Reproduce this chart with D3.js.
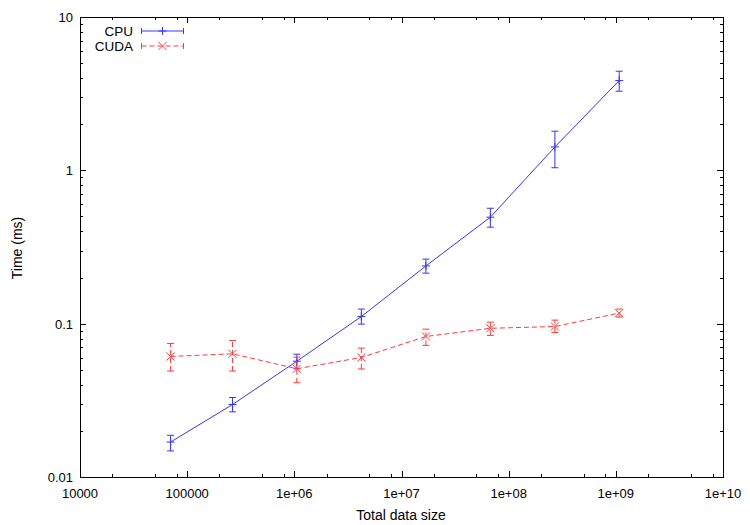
<!DOCTYPE html>
<html>
<head>
<meta charset="utf-8">
<script src="https://cdn.jsdelivr.net/npm/d3@7"></script>
<style>
  body { margin: 0; background: #fff; }
  svg { display: block; font-family: "Liberation Sans", Arial, sans-serif; }
</style>
</head>
<body>
<svg id="chart" width="750" height="525"></svg>
<script>
// x values: total data size
const SIZES = [70000, 265000, 1055000, 4220000, 16900000, 67500000, 270000000, 1075000000];

// CPU timing: mean, low, high (ms)
const CPU_TIME = [0.0169, 0.0297, 0.0569, 0.1113, 0.238, 0.495, 1.42, 3.85];
const CPU_LOW  = [0.0148, 0.0266, 0.0508, 0.0993, 0.2136, 0.426, 1.04, 3.28];
const CPU_HIGH = [0.0187, 0.0330, 0.0632, 0.1245, 0.2636, 0.566, 1.80, 4.43];

// CUDA timing: mean, low, high (ms)
const CUDA_TIME = [0.0611, 0.0636, 0.0508, 0.0602, 0.0825, 0.0933, 0.0958, 0.1172];
const CUDA_LOW  = [0.0491, 0.0491, 0.0412, 0.0506, 0.0722, 0.0839, 0.0876, 0.1104];
const CUDA_HIGH = [0.0743, 0.0777, 0.0605, 0.0693, 0.0921, 0.1023, 0.1055, 0.1245];

const X_TICKS = [1e4, 1e5, 1e6, 1e7, 1e8, 1e9, 1e10];
const X_TICK_LABELS = ["10000", "100000", "1e+06", "1e+07", "1e+08", "1e+09", "1e+10"];
const Y_TICKS = [0.01, 0.1, 1, 10];
const Y_TICK_LABELS = ["0.01", "0.1", "1", "10"];

const plotLeft = 80, plotRight = 723, plotTop = 17, plotBottom = 477;

const svg = d3.select("#chart");

const x = d3.scaleLog().domain([1e4, 1e10]).range([plotLeft, plotRight]);
const y = d3.scaleLog().domain([0.01, 10]).range([plotBottom, plotTop]);

// minor ticks
const xMinor = [];
for (let d = 1e4; d < 1e10; d *= 10) {
  for (const m of [2, 5, 8]) xMinor.push(d * m);
}
const yMinor = [];
for (let d = 0.01; d < 9; d *= 10) {
  for (let m = 2; m <= 9; m++) yMinor.push(d * m);
}

const ticks = svg.append("g").attr("stroke", "#000").attr("stroke-width", 1);
function tickLines(vals, len, axis) {
  for (const v of vals) {
    if (axis === "x") {
      const px = Math.round(x(v)) + 0.5;
      ticks.append("line").attr("x1", px).attr("x2", px).attr("y1", plotBottom).attr("y2", plotBottom - len);
      ticks.append("line").attr("x1", px).attr("x2", px).attr("y1", plotTop).attr("y2", plotTop + len);
    } else {
      const py = Math.round(y(v)) + 0.5;
      ticks.append("line").attr("x1", plotLeft).attr("x2", plotLeft + len).attr("y1", py).attr("y2", py);
      ticks.append("line").attr("x1", plotRight).attr("x2", plotRight - len).attr("y1", py).attr("y2", py);
    }
  }
}
tickLines(X_TICKS, 6, "x");
tickLines(xMinor, 3, "x");
tickLines(Y_TICKS, 6, "y");
tickLines(yMinor, 3, "y");

// tick labels
svg.append("g").selectAll("text")
  .data(X_TICKS)
  .join("text")
  .attr("x", d => x(d))
  .attr("y", 498)
  .attr("text-anchor", "middle")
  .attr("font-size", 13)
  .text((d, i) => X_TICK_LABELS[i]);

svg.append("g").selectAll("text")
  .data(Y_TICKS)
  .join("text")
  .attr("x", 73)
  .attr("y", d => y(d) + 5)
  .attr("text-anchor", "end")
  .attr("font-size", 13)
  .text((d, i) => Y_TICK_LABELS[i]);

// axis titles
svg.append("text")
  .attr("x", 401).attr("y", 520)
  .attr("text-anchor", "middle")
  .attr("font-size", 14)
  .text("Total data size");

svg.append("text")
  .attr("transform", "translate(22, 248) rotate(-90)")
  .attr("text-anchor", "middle")
  .attr("font-size", 14)
  .text("Time (ms)");

function drawSeries(times, lows, highs, color, dash, marker) {
  const g = svg.append("g")
    .attr("stroke", color)
    .attr("fill", "none")
    .attr("stroke-width", 1);

  const pts = SIZES.map((s, i) => ({x: s, y: times[i], lo: lows[i], hi: highs[i]}));

  g.append("path")
    .attr("d", d3.line().x(d => x(d.x)).y(d => y(d.y))(pts))
    .attr("stroke-dasharray", dash);

  const cap = 3.5;
  for (const p of pts) {
    const px = x(p.x);
    g.append("line").attr("x1", px).attr("x2", px)
      .attr("y1", y(p.lo)).attr("y2", y(p.hi))
      .attr("stroke-dasharray", dash);
    g.append("line").attr("x1", px - cap).attr("x2", px + cap)
      .attr("y1", y(p.lo)).attr("y2", y(p.lo));
    g.append("line").attr("x1", px - cap).attr("x2", px + cap)
      .attr("y1", y(p.hi)).attr("y2", y(p.hi));
    drawMarker(g, marker, px, y(p.y));
  }
}

function drawMarker(g, marker, px, py) {
  const r = 4;
  if (marker === "plus") {
    g.append("line").attr("x1", px - r).attr("x2", px + r).attr("y1", py).attr("y2", py);
    g.append("line").attr("x1", px).attr("x2", px).attr("y1", py - r).attr("y2", py + r);
  } else {
    g.append("line").attr("x1", px - r).attr("x2", px + r).attr("y1", py - r).attr("y2", py + r);
    g.append("line").attr("x1", px - r).attr("x2", px + r).attr("y1", py + r).attr("y2", py - r);
  }
}

const CPU_COLOR = "#3535ff";
const CUDA_COLOR = "#ff3a3a";

drawSeries(CPU_TIME, CPU_LOW, CPU_HIGH, CPU_COLOR, null, "plus");
drawSeries(CUDA_TIME, CUDA_LOW, CUDA_HIGH, CUDA_COLOR, "5,3", "cross");

// legend
const legend = [
  {name: "CPU", color: CPU_COLOR, dash: null, marker: "plus", y: 31},
  {name: "CUDA", color: CUDA_COLOR, dash: "5,3", marker: "cross", y: 46}
];
for (const l of legend) {
  svg.append("text")
    .attr("x", 133).attr("y", l.y + 5)
    .attr("text-anchor", "end")
    .attr("font-size", 13.5)
    .text(l.name);
  const g = svg.append("g").attr("stroke", l.color).attr("stroke-width", 1);
  g.append("line").attr("x1", 141.5).attr("x2", 183.5).attr("y1", l.y).attr("y2", l.y)
    .attr("stroke-dasharray", l.dash);
  g.append("line").attr("x1", 141.5).attr("x2", 141.5).attr("y1", l.y - 3).attr("y2", l.y + 3);
  g.append("line").attr("x1", 183.5).attr("x2", 183.5).attr("y1", l.y - 3).attr("y2", l.y + 3);
  drawMarker(g, l.marker, 162.5, l.y);
}

// border
svg.append("rect")
  .attr("x", plotLeft + 0.5).attr("y", plotTop + 0.5)
  .attr("width", plotRight - plotLeft).attr("height", plotBottom - plotTop)
  .attr("fill", "none")
  .attr("stroke", "#000")
  .attr("stroke-width", 1);
</script>
</body>
</html>
